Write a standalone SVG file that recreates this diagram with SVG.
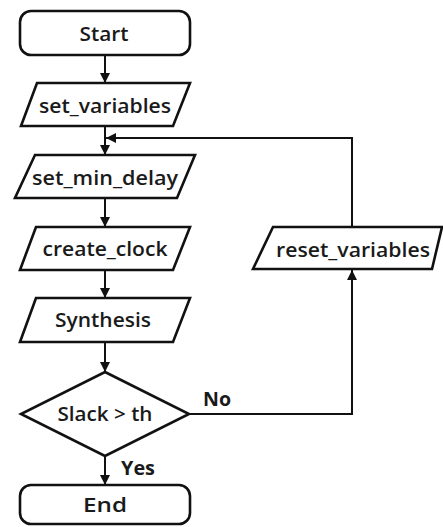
<svg xmlns="http://www.w3.org/2000/svg" width="443" height="527" viewBox="0 0 443 527">
  <style>
    .shape { fill: #ffffff; stroke: #111111; stroke-width: 2.6; stroke-linejoin: miter; }
    .lbl { font-family: "Open Sans", "Liberation Sans", Arial, sans-serif; font-weight: 600; font-size: 20px; fill: #1a1a1a; text-anchor: middle; }
    .edge { fill: none; stroke: #111111; stroke-width: 2; }
    .tag { font-family: "Open Sans", "Liberation Sans", Arial, sans-serif; font-weight: 700; font-size: 20px; fill: #1a1a1a; }
  </style>
  <defs>
    <marker id="arrow" viewBox="0 0 10 10" refX="10" refY="5" markerWidth="10" markerHeight="10" markerUnits="userSpaceOnUse" orient="auto">
      <path d="M0,0 L10,5 L0,10 z" fill="#111111"/>
    </marker>
  </defs>
  <rect width="443" height="527" fill="#ffffff"/>

  <g id="connectors">
    <line class="edge" x1="105" y1="55" x2="105" y2="83" marker-end="url(#arrow)"/>
    <line class="edge" x1="105" y1="126" x2="105" y2="155" marker-end="url(#arrow)"/>
    <line class="edge" x1="105" y1="198" x2="105" y2="227" marker-end="url(#arrow)"/>
    <line class="edge" x1="105" y1="270" x2="105" y2="298" marker-end="url(#arrow)"/>
    <line class="edge" x1="105" y1="342" x2="105" y2="372" marker-end="url(#arrow)"/>
    <line class="edge" x1="105" y1="456" x2="105" y2="485" marker-end="url(#arrow)"/>
    <!-- No branch up to reset_variables -->
    <polyline class="edge" points="189,414 352,414 352,270" marker-end="url(#arrow)"/>
    <!-- loop back above set_min_delay -->
    <polyline class="edge" points="352,227 352,138 106,138" marker-end="url(#arrow)"/>
    <text class="tag" x="203" y="406" textLength="28" lengthAdjust="spacingAndGlyphs">No</text>
    <text class="tag" x="121" y="475" textLength="34" lengthAdjust="spacingAndGlyphs">Yes</text>
  </g>

  <g id="start">
    <rect class="shape" x="20" y="11" width="170" height="44" rx="11"/>
    <text class="lbl" x="104" y="41" textLength="49" lengthAdjust="spacingAndGlyphs">Start</text>
  </g>

  <g id="set_variables">
    <polygon class="shape" points="37,83 190,83 173,126 21,126"/>
    <text class="lbl" x="105" y="113" textLength="132" lengthAdjust="spacingAndGlyphs">set_variables</text>
  </g>

  <g id="set_min_delay">
    <polygon class="shape" points="35,155 195,155 177,198 15,198"/>
    <text class="lbl" x="105" y="185" textLength="146" lengthAdjust="spacingAndGlyphs">set_min_delay</text>
  </g>

  <g id="create_clock">
    <polygon class="shape" points="36,227 190,227 173,270 20,270"/>
    <text class="lbl" x="105" y="256" textLength="125" lengthAdjust="spacingAndGlyphs">create_clock</text>
  </g>

  <g id="synthesis">
    <polygon class="shape" points="36,298 190,298 173,342 20,342"/>
    <text class="lbl" x="103" y="327" textLength="96" lengthAdjust="spacingAndGlyphs">Synthesis</text>
  </g>

  <g id="slack_check">
    <polygon class="shape" points="105,372 189,414 105,456 21,414"/>
    <text class="lbl" x="105" y="421" textLength="95" lengthAdjust="spacingAndGlyphs">Slack &gt; th</text>
  </g>

  <g id="end">
    <rect class="shape" x="20" y="485" width="170" height="39" rx="11"/>
    <text class="lbl" x="105" y="512" textLength="44" lengthAdjust="spacingAndGlyphs">End</text>
  </g>

  <g id="reset_variables">
    <polygon class="shape" points="273,227 442,227 432,269 253,269"/>
    <text class="lbl" x="353" y="257" textLength="154" lengthAdjust="spacingAndGlyphs">reset_variables</text>
  </g>
</svg>
